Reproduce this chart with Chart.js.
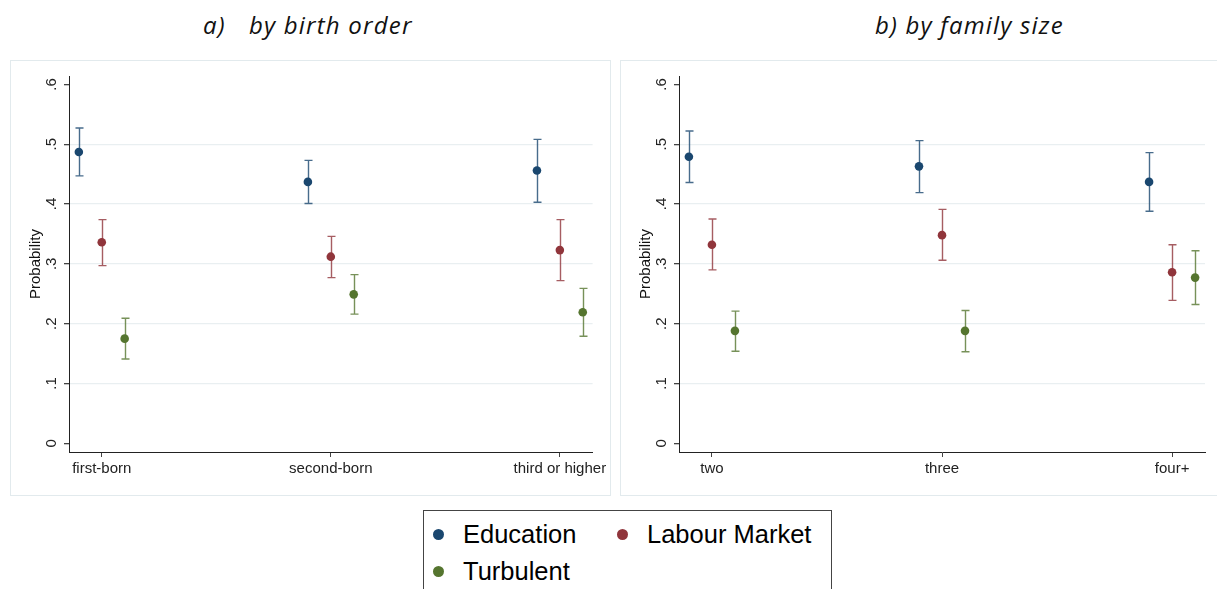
<!DOCTYPE html>
<html>
<head>
<meta charset="utf-8">
<script src="https://cdn.jsdelivr.net/npm/chart.js@4.4.0/dist/chart.umd.min.js"></script>
<style>
  body { margin: 0; background: #fff; width: 1217px; height: 589px; overflow: hidden; position: relative;
         font-family: "Liberation Sans", Arial, sans-serif; }
  .panel { position: absolute; top: 60px; border: 1px solid #e2eaed; background: #fff; }
  .panel canvas { display: block; }
  .title { position: absolute; top: 11px; font-family: "Open Sans", Lato, sans-serif; font-style: italic;
           font-size: 24px; letter-spacing: 1.2px; line-height: 27px; color: #111; white-space: pre; }
  .legend { position: absolute; left: 423px; top: 510px; width: 407px; height: 100px; border: 1.5px solid #444; }
  .key { position: absolute; font-size: 25.5px; line-height: 25px; color: #000; white-space: pre; }
  .dot { position: absolute; width: 11px; height: 11px; border-radius: 50%; }
</style>
</head>
<body>

<div class="title" style="left:203px">a)</div>
<div class="title" style="left:249px">by birth order</div>
<div class="title" style="left:875px">b) by family size</div>

<div class="panel" style="left:10px"><canvas id="birth" width="599" height="434"></canvas></div>
<div class="panel" style="left:620px"><canvas id="family" width="596" height="434"></canvas></div>

<div class="legend"></div>
<div id="keys"></div>

<script>
const birthOrder = ['first-born', 'second-born', 'third or higher'];
const familySize = ['two', 'three', 'four+'];
const yTicks = [0, 0.1, 0.2, 0.3, 0.4, 0.5, 0.6];
const yTickLabels = ['0', '.1', '.2', '.3', '.4', '.5', '.6'];
const seriesNames = ['Education', 'Labour Market', 'Turbulent'];
const seriesColors = ['#1a476f', '#90353b', '#55752f'];

// a) by birth order
const eduBirth   = [0.487, 0.437, 0.456];
const eduBirthLo = [0.447, 0.401, 0.403];
const eduBirthHi = [0.527, 0.473, 0.508];
const labBirth   = [0.336, 0.312, 0.323];
const labBirthLo = [0.297, 0.277, 0.272];
const labBirthHi = [0.374, 0.346, 0.374];
const turBirth   = [0.175, 0.249, 0.219];
const turBirthLo = [0.141, 0.216, 0.179];
const turBirthHi = [0.209, 0.282, 0.259];

// b) by family size
const eduFam   = [0.479, 0.463, 0.437];
const eduFamLo = [0.436, 0.419, 0.388];
const eduFamHi = [0.522, 0.506, 0.486];
const labFam   = [0.332, 0.348, 0.286];
const labFamLo = [0.290, 0.306, 0.239];
const labFamHi = [0.375, 0.391, 0.332];
const turFam   = [0.188, 0.188, 0.277];
const turFamLo = [0.154, 0.153, 0.232];
const turFamHi = [0.221, 0.222, 0.322];

const offsets = [-0.1, 0, 0.1];
const axisFont = { family: '"Liberation Sans", Arial', size: 15 };

const errorBars = {
  id: 'errorBars',
  beforeDatasetsDraw(chart) {
    const { ctx, scales: { x, y } } = chart;
    ctx.save();
    chart.data.datasets.forEach(ds => {
      ctx.strokeStyle = ds.barColor;
      ctx.lineWidth = 1.4;
      ds.data.forEach((p, i) => {
        const px = Math.round(x.getPixelForValue(p.x)) + 0.5;
        const top = y.getPixelForValue(ds.hi[i]);
        const bot = y.getPixelForValue(ds.lo[i]);
        ctx.beginPath();
        ctx.moveTo(px, top); ctx.lineTo(px, bot);
        ctx.moveTo(px - 4, top); ctx.lineTo(px + 4, top);
        ctx.moveTo(px - 4, bot); ctx.lineTo(px + 4, bot);
        ctx.stroke();
      });
    });
    ctx.restore();
  }
};

function makeSet(k, vals, lo, hi) {
  return {
    label: seriesNames[k],
    data: vals.map((v, i) => ({ x: i + 1 + offsets[k], y: v })),
    lo, hi,
    backgroundColor: seriesColors[k],
    borderColor: seriesColors[k],
    barColor: seriesColors[k] + 'cc',
    pointRadius: 4.3,
    pointBorderWidth: 0
  };
}

function panel(id, cats, sets, rightPad) {
  new Chart(document.getElementById(id), {
    type: 'scatter',
    data: { datasets: sets },
    plugins: [errorBars],
    options: {
      responsive: false,
      animation: false,
      layout: { padding: { top: 14, right: rightPad, left: 0, bottom: 0 } },
      plugins: { legend: { display: false }, tooltip: { enabled: false } },
      scales: {
        x: {
          type: 'linear', min: 0.857, max: 3.143,
          afterBuildTicks: s => { s.ticks = cats.map((c, i) => ({ value: i + 1 })); },
          afterFit: s => { s.height = 43; },
          ticks: { callback: (v, i) => cats[i], color: '#222', padding: 3, maxRotation: 0, font: axisFont },
          grid: { drawOnChartArea: false, tickLength: 5, tickColor: '#444' },
          border: { color: '#222', width: 1 }
        },
        y: {
          min: -0.0145, max: 0.614,
          afterBuildTicks: s => { s.ticks = yTicks.map(v => ({ value: v })); },
          afterFit: s => { s.width = 58; },
          ticks: { callback: (v, i) => yTickLabels[i], color: '#222', padding: 6,
                   minRotation: 90, maxRotation: 90, crossAlign: 'center', font: axisFont },
          grid: {
            color: c => (c.tick && c.tick.value > 0.05 && c.tick.value < 0.55) ? '#e9eff1' : 'rgba(0,0,0,0)',
            lineWidth: 1.3, tickLength: 5, tickColor: '#444'
          },
          border: { color: '#222', width: 1 },
          title: { display: true, text: 'Probability', color: '#111', padding: { top: 16, bottom: 0 },
                   font: axisFont }
        }
      }
    }
  });
}

panel('birth', birthOrder, [
  makeSet(0, eduBirth, eduBirthLo, eduBirthHi),
  makeSet(1, labBirth, labBirthLo, labBirthHi),
  makeSet(2, turBirth, turBirthLo, turBirthHi)
], 14);

panel('family', familySize, [
  makeSet(0, eduFam, eduFamLo, eduFamHi),
  makeSet(1, labFam, labFamLo, labFamHi),
  makeSet(2, turFam, turFamLo, turFamHi)
], 12);

// legend
const keyPos = [[438, 534], [622, 534], [438, 571]];
const keys = document.getElementById('keys');
seriesNames.forEach((name, k) => {
  const [cx, cy] = keyPos[k];
  const dot = document.createElement('div');
  dot.className = 'dot';
  dot.style.left = (cx - 5.5) + 'px';
  dot.style.top = (cy - 5.5) + 'px';
  dot.style.background = seriesColors[k];
  const txt = document.createElement('div');
  txt.className = 'key';
  txt.textContent = name;
  txt.style.left = (cx + 25) + 'px';
  txt.style.top = (cy - 12) + 'px';
  keys.append(dot, txt);
});
</script>
</body>
</html>
